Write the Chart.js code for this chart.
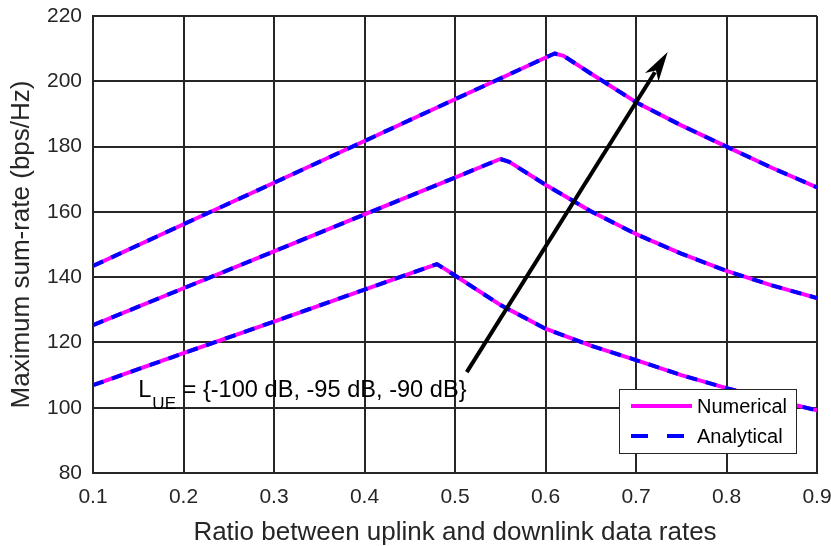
<!DOCTYPE html>
<html>
<head>
<meta charset="utf-8">
<script src="https://cdn.jsdelivr.net/npm/chart.js@4.4.0/dist/chart.umd.min.js"></script>
<style>
html,body{margin:0;padding:0;background:#fff;}
#wrap{width:831px;height:546px;position:relative;}
</style>
</head>
<body>
<div id="wrap"><canvas id="c" width="831" height="546"></canvas></div>
<script>
// ---- data ----
const xLow  = [0.1, 0.2, 0.3, 0.4, 0.48, 0.49, 0.5, 0.55, 0.6, 0.65, 0.7, 0.75, 0.8, 0.85, 0.9];
const yLow  = [106.9, 116.7, 126.4, 136.2, 144.0, 142.3, 140.5, 131.5, 124.2, 119.0, 114.6, 110.0, 106.0, 102.5, 99.2];
const xMid  = [0.1, 0.2, 0.3, 0.4, 0.5, 0.55, 0.56, 0.6, 0.65, 0.7, 0.75, 0.8, 0.85, 0.9];
const yMid  = [125.3, 136.6, 147.9, 159.2, 170.5, 176.2, 175.3, 168.3, 160.2, 153.2, 147.2, 141.9, 137.5, 133.6];
const xHigh = [0.1, 0.2, 0.3, 0.4, 0.5, 0.61, 0.62, 0.65, 0.7, 0.75, 0.8, 0.85, 0.9];
const yHigh = [143.4, 156.2, 168.9, 181.7, 194.5, 208.5, 207.8, 202.4, 193.6, 186.5, 180.0, 173.5, 167.5];
const xTicks = [0.1, 0.2, 0.3, 0.4, 0.5, 0.6, 0.7, 0.8, 0.9];
const yTicks = [80, 100, 120, 140, 160, 180, 200, 220];
const seriesNames = ['Numerical', 'Analytical'];
const annotationText = ['L', 'UE', ' = {-100 dB, -95 dB, -90 dB}'];
const annotationPos = {x: 0.15, y: 103.3};
const arrowFrom = {x: 0.513, y: 110.9};
const arrowTo = {x: 0.735, y: 209.0};

const FONT = '"Liberation Sans", Arial, sans-serif';
const TXT = '#262626';

function pts(xs, ys){ return xs.map((x,i)=>({x:x, y:ys[i]})); }
const curves = [[xLow,yLow],[xMid,yMid],[xHigh,yHigh]];
const datasets = [];
curves.forEach(c=>{
  datasets.push({label: seriesNames[0], order:2, data: pts(c[0],c[1]), borderColor:'#ff00ff', borderWidth:4, pointRadius:0, tension:0, fill:false, borderJoinStyle:'round'});
});
curves.forEach(c=>{
  datasets.push({label: seriesNames[1], order:1, data: pts(c[0],c[1]), borderColor:'#0000ff', borderWidth:4, borderDash:[11,9], pointRadius:0, tension:0, fill:false, borderJoinStyle:'round'});
});

const overlay = {
  id:'overlay',
  afterDatasetsDraw(chart){
    const ctx = chart.ctx, xs = chart.scales.x, ys = chart.scales.y;
    // arrow
    const x1 = xs.getPixelForValue(arrowFrom.x), y1 = ys.getPixelForValue(arrowFrom.y);
    const x2 = xs.getPixelForValue(arrowTo.x), y2 = ys.getPixelForValue(arrowTo.y);
    const ang = Math.atan2(y2-y1, x2-x1);
    const hl = 30, hw = 8;
    ctx.save();
    ctx.strokeStyle = '#000'; ctx.fillStyle = '#000'; ctx.lineWidth = 4; ctx.setLineDash([]);
    ctx.beginPath(); ctx.moveTo(x1,y1);
    ctx.lineTo(x2 - (hl-6)*Math.cos(ang), y2 - (hl-6)*Math.sin(ang)); ctx.stroke();
    ctx.beginPath();
    ctx.moveTo(x2,y2);
    const bx = x2 - hl*Math.cos(ang), by = y2 - hl*Math.sin(ang);
    ctx.lineTo(bx + hw*Math.sin(ang), by - hw*Math.cos(ang));
    ctx.lineTo(x2 - (hl-8)*Math.cos(ang), y2 - (hl-8)*Math.sin(ang));
    ctx.lineTo(bx - hw*Math.sin(ang), by + hw*Math.cos(ang));
    ctx.closePath(); ctx.fill();
    // annotation text
    const tx = xs.getPixelForValue(annotationPos.x), ty = ys.getPixelForValue(annotationPos.y);
    ctx.fillStyle = '#000'; ctx.textBaseline = 'alphabetic'; ctx.textAlign = 'left';
    ctx.font = '23.6px ' + FONT;
    ctx.fillText(annotationText[0], tx, ty);
    let w = ctx.measureText(annotationText[0]).width;
    ctx.font = '17px ' + FONT;
    ctx.fillText(annotationText[1], tx + w + 1, ty + 12);
    w += ctx.measureText(annotationText[1]).width + 1;
    ctx.font = '23.6px ' + FONT;
    ctx.fillText(annotationText[2], tx + w, ty);
    // legend
    const lx = 619, ly = 389, lw = 177, lh = 64;
    ctx.fillStyle = '#fff'; ctx.fillRect(lx, ly, lw, lh);
    ctx.strokeStyle = '#262626'; ctx.lineWidth = 1;
    ctx.strokeRect(lx+0.5, ly+0.5, lw, lh);
    ctx.lineWidth = 4;
    ctx.strokeStyle = '#ff00ff';
    ctx.beginPath(); ctx.moveTo(631, 406); ctx.lineTo(692, 406); ctx.stroke();
    ctx.strokeStyle = '#0000ff'; ctx.setLineDash([17,19]);
    ctx.beginPath(); ctx.moveTo(631, 436); ctx.lineTo(692, 436); ctx.stroke();
    ctx.setLineDash([]);
    ctx.fillStyle = '#000'; ctx.font = '20px ' + FONT; ctx.textBaseline = 'middle';
    ctx.fillText(seriesNames[0], 697, 407);
    ctx.fillText(seriesNames[1], 697, 437);
    ctx.restore();
  }
};

new Chart(document.getElementById('c'), {
  type:'line',
  data:{datasets},
  plugins:[overlay],
  options:{
    responsive:false, animation:false, devicePixelRatio:1,
    layout:{padding:0},
    plugins:{legend:{display:false}, tooltip:{enabled:false}},
    scales:{
      x:{type:'linear', min:0.1, max:0.9,
        afterBuildTicks(s){ s.ticks = xTicks.map(v=>({value:v})); },
        afterFit(s){ s.height = 73; s.paddingLeft = 0; s.paddingRight = 14; },
        ticks:{callback:v=>v.toFixed(1), color:TXT, font:{family:FONT, size:21}, padding:12, maxRotation:0},
        grid:{color:'#262626', lineWidth:2, drawTicks:false},
        border:{color:'#262626', width:2},
        title:{display:true, text:'Ratio between uplink and downlink data rates', color:TXT, font:{family:FONT, size:26, lineHeight:1}, padding:{top:0,bottom:0}}
      },
      y:{type:'linear', min:80, max:220,
        afterBuildTicks(s){ s.ticks = yTicks.map(v=>({value:v})); },
        afterFit(s){ s.width = 93; s.paddingTop = 16; s.paddingBottom = 0; },
        ticks:{color:TXT, font:{family:FONT, size:21}, padding:11},
        grid:{color:'#262626', lineWidth:2, drawTicks:false},
        border:{color:'#262626', width:2},
        title:{display:true, text:'Maximum sum-rate (bps/Hz)', color:TXT, font:{family:FONT, size:26, lineHeight:1}, padding:{top:9,bottom:0}}
      }
    }
  }
});
</script>
</body>
</html>
